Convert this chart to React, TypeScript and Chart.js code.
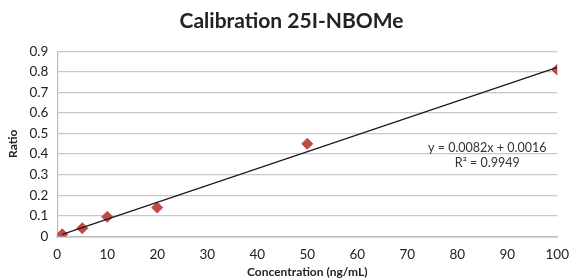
import React, { useEffect, useRef } from "react";
import { Chart, registerables } from "chart.js";

Chart.register(...registerables);

const concentrations = [1, 5, 10, 20, 50, 100];
const ratios = [0.01, 0.04, 0.095, 0.14, 0.45, 0.81];
const slope = 0.0082;
const intercept = 0.0016;
const trendRange = [1, 100];
const equationText = "y = 0.0082x + 0.0016";
const r2Text = "R² = 0.9949";
const FONT = "Lato, 'Open Sans', sans-serif";

const annotationPlugin = {
  id: "eqnLabel",
  afterDatasetsDraw(chart: any) {
    const { ctx, scales } = chart;
    const x = scales.x.getPixelForValue(86);
    const y1 = scales.y.getPixelForValue(0.428);
    const y2 = scales.y.getPixelForValue(0.355);
    ctx.save();
    ctx.font = `12.5px ${FONT}`;
    ctx.fillStyle = "#333";
    ctx.textAlign = "center";
    ctx.textBaseline = "middle";
    ctx.fillText(equationText, x, y1);
    ctx.fillText(r2Text, x, y2);
    ctx.restore();
  },
};

export default function App() {
  const ref = useRef<HTMLCanvasElement>(null);
  useEffect(() => {
    if (!ref.current) return;
    const chart = new Chart(ref.current, {
      type: "scatter",
      data: {
        datasets: [
          {
            label: "Trend",
            type: "line",
            data: trendRange.map((x) => ({ x, y: slope * x + intercept })),
            borderColor: "#1a1a1a",
            borderWidth: 1.2,
            pointRadius: 0,
            fill: false,
          } as any,
          {
            label: "Ratio",
            data: concentrations.map((x, i) => ({ x, y: ratios[i] })),
            pointStyle: "rectRot",
            pointRadius: 5.5,
            backgroundColor: "#BE4B48",
            borderColor: "#BE4B48",
          },
        ],
      },
      options: {
        animation: false,
        responsive: false,
        layout: { padding: { left: 6, right: -6, top: 3, bottom: 0 } },
        plugins: {
          legend: { display: false },
          tooltip: { enabled: false },
          title: {
            display: true,
            text: "Calibration 25I-NBOMe",
            font: { family: FONT, size: 21, weight: "bold" },
            color: "#222",
            padding: { top: 6, bottom: 17 },
          },
        },
        scales: {
          x: {
            type: "linear",
            min: 0,
            max: 100,
            ticks: { stepSize: 10, color: "#222", font: { family: FONT, size: 13.5 }, padding: 2 },
            grid: { display: false },
            border: { display: true, color: "#bdbdbd", width: 1.5 },
            title: {
              display: true,
              text: "Concentration (ng/mL)",
              font: { family: FONT, size: 12, weight: "bold" },
              color: "#222",
              padding: { top: 0, bottom: 0 },
            },
          },
          y: {
            min: 0,
            max: 0.9,
            ticks: {
              stepSize: 0.1,
              color: "#222",
              font: { family: FONT, size: 13.5 },
              padding: 9,
              callback: (v: any) => String(Math.round(Number(v) * 10) / 10),
            },
            grid: { color: "#c8c8c8", lineWidth: 1.2, drawTicks: false },
            border: { display: true, color: "#bdbdbd", width: 1.2 },
            title: {
              display: true,
              text: "Ratio",
              font: { family: FONT, size: 12, weight: "bold" },
              color: "#222",
              padding: { top: 0, bottom: 0 },
            },
          },
        },
      },
      plugins: [annotationPlugin],
    });
    return () => chart.destroy();
  }, []);
  return (
    <div style={{ position: "fixed", left: 0, top: 0, width: 571, height: 279, background: "#fff" }}>
      <canvas ref={ref} width={571} height={279} />
    </div>
  );
}
